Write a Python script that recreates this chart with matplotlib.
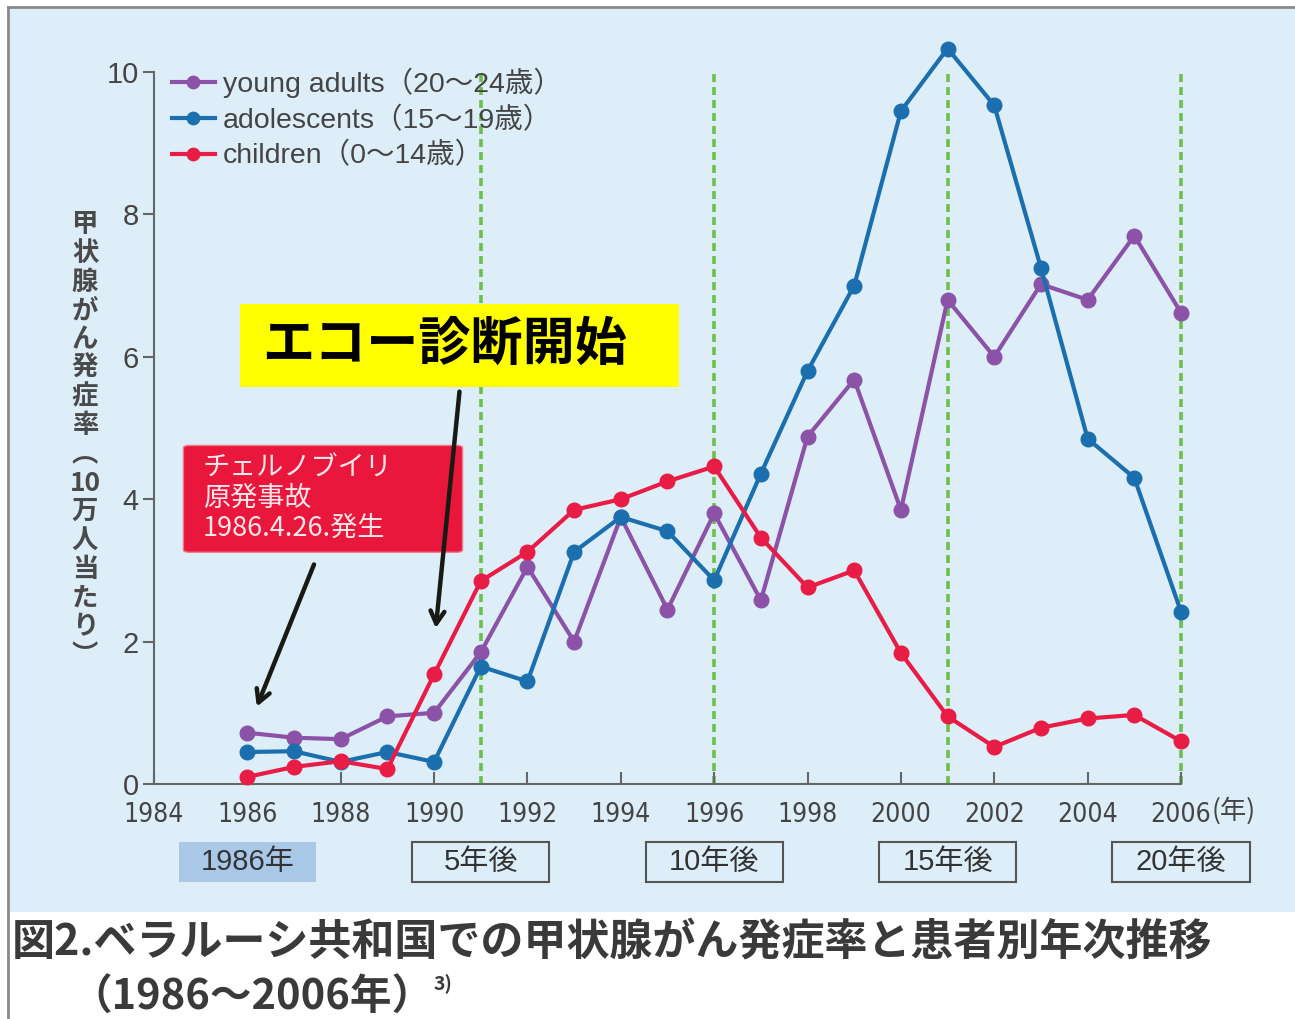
import matplotlib
matplotlib.use('Agg')
from matplotlib import pyplot as plt
from matplotlib.patches import Rectangle, FancyBboxPatch
from matplotlib.lines import Line2D
import matplotlib.transforms as mtransforms

plt.rcParams['font.family'] = ['Noto Sans CJK JP', 'DejaVu Sans']

years = list(range(1986, 2007))
young_adults = [0.72, 0.65, 0.63, 0.95, 1.0, 1.85, 3.05, 2.0, 3.75, 2.45, 3.8,
                2.58, 4.88, 5.68, 3.85, 6.8, 6.0, 7.02, 6.8, 7.7, 6.62]
adolescents = [0.45, 0.46, 0.31, 0.45, 0.31, 1.65, 1.44, 3.26, 3.75, 3.55, 2.86,
               4.36, 5.8, 7.0, 9.45, 10.33, 9.53, 7.25, 4.85, 4.3, 2.42]
children = [0.1, 0.24, 0.32, 0.21, 1.54, 2.85, 3.26, 3.85, 4.0, 4.25, 4.46,
            3.46, 2.76, 3.0, 1.84, 0.95, 0.52, 0.79, 0.92, 0.97, 0.6]

series_labels = ['young adults（20〜24歳）', 'adolescents（15〜19歳）', 'children（0〜14歳）']
series_colors = ['#8b52a8', '#1b6fae', '#e81c45']

marker_years = [1991, 1996, 2001, 2006]
box_years = [1986, 1991, 1996, 2001, 2006]
box_labels = ['1986年', '5年後', '10年後', '15年後', '20年後']

xticks = list(range(1984, 2007, 2))
yticks = [0, 2, 4, 6, 8, 10]

W, H = 1295, 1019
fig = plt.figure(figsize=(W / 100, H / 100), dpi=100)
fig.patch.set_facecolor('white')

# background panel and border
fig.patches.append(Rectangle((10 / W, 1 - 912 / H), 1, 903 / H, transform=fig.transFigure,
                             facecolor='#ddeef9', edgecolor='none', zorder=-10))
fig.lines.append(Line2D([8 / W, 1], [1 - 7 / H, 1 - 7 / H], transform=fig.transFigure,
                        color='#8a8a8a', lw=2, zorder=-9))
fig.lines.append(Line2D([8 / W, 8 / W], [1 - 7 / H, 0], transform=fig.transFigure,
                        color='#8a8a8a', lw=2, zorder=-9))

y_top = 10.6
ax = fig.add_axes([154 / W, 1 - 784 / H, 1027 / W, (y_top * 71.2) / H])
ax.set_facecolor('none')
ax.set_xlim(1984, 2006)
ax.set_ylim(0, y_top)

for s in ['top', 'right']:
    ax.spines[s].set_visible(False)
for s in ['left', 'bottom']:
    ax.spines[s].set_color('#666666')
    ax.spines[s].set_linewidth(1.5)
ax.spines['left'].set_bounds(0, 10)

ax.vlines(marker_years, 0, 10, colors='#6cbf4a', linestyles=(0, (2.2, 1.4)), lw=2.6,
          zorder=1, clip_on=False)

for vals, lab, col in zip([young_adults, adolescents, children], series_labels, series_colors):
    ax.plot(years, vals, color=col, lw=3, marker='o', markersize=10.5, label=lab,
            clip_on=False, zorder=3)

ax.set_xticks(xticks)
ax.set_yticks(yticks)
ax.tick_params(axis='x', direction='in', length=9, width=1.5, color='#666666', pad=13,
               labelsize=19, labelcolor='#444444')
ax.tick_params(axis='y', direction='out', length=8, width=1.5, color='#666666', pad=3,
               labelsize=21, labelcolor='#444444')
for t in ax.get_xticklabels():
    t.set_family(['DejaVu Sans'])
    t.set_stretch('condensed')
for t in ax.get_yticklabels():
    t.set_family(['Liberation Sans'])

trans_xfig = mtransforms.blended_transform_factory(ax.transData, fig.transFigure)
ax.text(2006.65, 1 - 811 / H, '(年)', transform=trans_xfig, fontsize=19, color='#444444',
        ha='left', va='center')

leg = ax.legend(loc='upper left', bbox_to_anchor=(172 / W, 1 - 68 / H),
                bbox_transform=fig.transFigure, frameon=False, fontsize=20.5,
                handlelength=1.5, handletextpad=0.3, labelspacing=0.3,
                borderpad=0, borderaxespad=0, markerscale=0.85)
for t in leg.get_texts():
    t.set_color('#444444')
    t.set_family(['Liberation Sans', 'Noto Sans CJK JP'])

# y label, stacked vertically
ylabel_chars = ['甲', '状', '腺', 'が', 'ん', '発', '症', '率', '︵', '10', '万', '人', '当', 'た', 'り', '︶']
fig.text(85 / W, 1 - 440 / H, '\n'.join(ylabel_chars), ha='center', va='center',
         fontsize=19, color='#4a4a4a', linespacing=1.08, fontweight='bold')

# bottom year boxes
for yr, lab in zip(box_years, box_labels):
    if yr == 1986:
        fc, ec = '#a9c8e8', 'none'
    else:
        fc, ec = 'none', '#555555'
    ax.add_patch(Rectangle((yr - 1.47, 1 - 882 / H), 2.94, 40 / H, transform=trans_xfig,
                           facecolor=fc, edgecolor=ec, lw=1.5, clip_on=False))
    ax.text(yr, 1 - 862 / H, lab, transform=trans_xfig, ha='center', va='center',
            fontsize=21, color='#333333', family=['Liberation Sans', 'Noto Sans CJK JP'])

# Chernobyl box
ax.add_patch(FancyBboxPatch((1984.68, 3.27), 5.88, 1.47, boxstyle='round,pad=0.05,rounding_size=0.12',
                            facecolor='#e8173b', edgecolor='#f07a8d', lw=1, clip_on=False, zorder=4,
                            mutation_aspect=0.3))
ax.text(1985.05, 4.01, 'チェルノブイリ\n原発事故\n1986.4.26.発生', ha='left', va='center',
        fontsize=19.5, color='#fde6ea', linespacing=1.15, zorder=5)

# echo box
ax.add_patch(Rectangle((1985.84, 5.58), 9.40, 1.16, facecolor='#ffff00', edgecolor='none',
                       zorder=4, clip_on=False))
ax.text(1990.22, 6.18, 'エコー診断開始', ha='center', va='center', fontsize=37.5,
        fontweight='bold', color='black', zorder=5)

# arrows
arrow_kw = dict(arrowstyle='->,head_length=0.9,head_width=0.5', color='#1a1a14', lw=3.2)
ax.annotate('', xy=(1986.18, 1.05), xytext=(1987.45, 3.12), arrowprops=arrow_kw, zorder=6)
ax.annotate('', xy=(1990.03, 2.15), xytext=(1990.55, 5.55), arrowprops=arrow_kw, zorder=6)

# caption
fig.text(12 / W, 1 - 942 / H, '図2.ベラルーシ共和国での甲状腺がん発症率と患者別年次推移',
         ha='left', va='center', fontsize=31, fontweight='bold', color='#3a3a3a')
fig.text(70 / W, 1 - 998 / H, '（1986〜2006年）', ha='left', va='center', fontsize=30,
         fontweight='bold', color='#3a3a3a')
fig.text(434 / W, 1 - 984 / H, '3)', ha='left', va='center', fontsize=14,
         fontweight='bold', color='#3a3a3a')

fig.savefig('out.png', dpi=100)
